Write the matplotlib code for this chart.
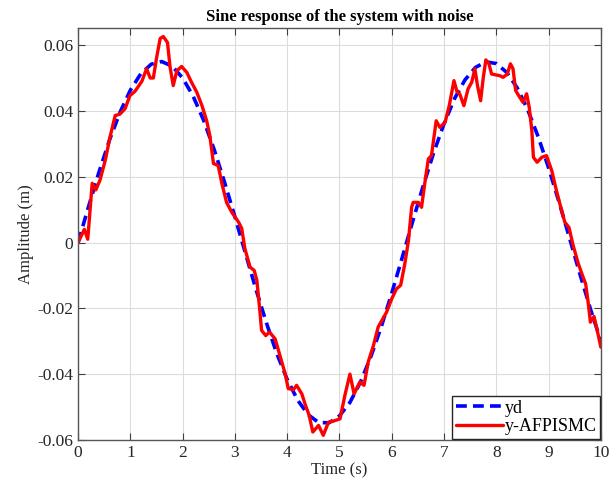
import matplotlib
matplotlib.use('Agg')
import matplotlib.pyplot as plt

# reference signal yd, sampled every 0.2 s
t_ref = [0.0, 0.2, 0.4, 0.6, 0.8, 1.0, 1.2, 1.4, 1.6, 1.8,
         2.0, 2.2, 2.4, 2.6, 2.8, 3.0, 3.2, 3.4, 3.6, 3.8,
         4.0, 4.2, 4.4, 4.6, 4.8, 5.0, 5.2, 5.4, 5.6, 5.8,
         6.0, 6.2, 6.4, 6.6, 6.8, 7.0, 7.2, 7.4, 7.6, 7.8,
         8.0, 8.2, 8.4, 8.6, 8.8, 9.0, 9.2, 9.4, 9.6, 9.8, 10.0]
yd = [0.0, 0.0109, 0.0214, 0.0311, 0.0395, 0.0463, 0.0513, 0.0542, 0.0550, 0.0536,
      0.0500, 0.0445, 0.0372, 0.0284, 0.0184, 0.0078, -0.0032, -0.0141, -0.0243, -0.0337,
      -0.0416, -0.0479, -0.0523, -0.0547, -0.0548, -0.0527, -0.0486, -0.0425, -0.0347, -0.0256,
      -0.0154, -0.0046, 0.0064, 0.0171, 0.0272, 0.0361, 0.0437, 0.0494, 0.0532, 0.0549,
      0.0544, 0.0517, 0.0470, 0.0404, 0.0322, 0.0227, 0.0123, 0.0014, -0.0096, -0.0202, -0.0299]

# system output y-AFPISMC (noisy)
t_out = [0.0, 0.12, 0.185, 0.27, 0.34, 0.42, 0.52, 0.61, 0.71, 0.80,
         0.90, 0.99, 1.09, 1.22, 1.31, 1.38, 1.44, 1.50, 1.57, 1.63,
         1.71, 1.76, 1.82, 1.89, 1.98, 2.08, 2.17, 2.27, 2.37, 2.46,
         2.52, 2.59, 2.68, 2.75, 2.84, 2.94, 3.07, 3.13, 3.19, 3.29,
         3.37, 3.42, 3.47, 3.51, 3.59, 3.66, 3.77, 3.86, 3.96, 4.02,
         4.12, 4.18, 4.28, 4.34, 4.42, 4.49, 4.60, 4.69, 4.79, 4.88,
         5.01, 5.11, 5.20, 5.28, 5.39, 5.47, 5.55, 5.65, 5.74, 5.81,
         5.90, 6.00, 6.09, 6.17, 6.25, 6.32, 6.38, 6.41, 6.51, 6.57,
         6.63, 6.70, 6.76, 6.85, 6.92, 7.02, 7.10, 7.19, 7.25, 7.30,
         7.38, 7.46, 7.53, 7.59, 7.64, 7.70, 7.75, 7.80, 7.86, 7.91,
         8.07, 8.13, 8.21, 8.27, 8.32, 8.37, 8.45, 8.51, 8.58, 8.63,
         8.68, 8.71, 8.78, 8.87, 8.96, 9.06, 9.15, 9.25, 9.31, 9.39,
         9.47, 9.57, 9.66, 9.71, 9.76, 9.80, 9.87, 9.93, 10.0]
y_out = [0.0, 0.004, 0.001, 0.018, 0.016, 0.019, 0.025, 0.032, 0.0386, 0.039,
         0.0407, 0.0446, 0.046, 0.049, 0.0528, 0.050, 0.050, 0.056, 0.062, 0.0626,
         0.0608, 0.0533, 0.0477, 0.0522, 0.0535, 0.0517, 0.0487, 0.0457, 0.0416, 0.037,
         0.0325, 0.024, 0.0234, 0.018, 0.0122, 0.0092, 0.0062, 0.0043, -0.0018, -0.0075,
         -0.0085, -0.0115, -0.0196, -0.0267, -0.0283, -0.0272, -0.0293, -0.0343, -0.0398, -0.0444,
         -0.0447, -0.0434, -0.046, -0.049, -0.0525, -0.0576, -0.0556, -0.0586, -0.0546, -0.0543,
         -0.0536, -0.046, -0.040, -0.046, -0.0424, -0.0434, -0.0363, -0.0313, -0.0257, -0.0237,
         -0.0212, -0.0171, -0.0141, -0.013, -0.0065, 0.0006, 0.0107, 0.0122, 0.0122, 0.0107,
         0.0178, 0.0254, 0.0264, 0.037, 0.035, 0.0365, 0.0416, 0.0492, 0.0457, 0.0452,
         0.0416, 0.0467, 0.0487, 0.0528, 0.0477, 0.0431, 0.050, 0.0555, 0.0543, 0.0512,
         0.0507, 0.0502, 0.0512, 0.0543, 0.0528, 0.0462, 0.0441, 0.0426, 0.0452, 0.0411,
         0.034, 0.0259, 0.0244, 0.0259, 0.0264, 0.0219, 0.0158, 0.0097, 0.0062, 0.0046,
         -0.0009, -0.0065, -0.0105, -0.0126, -0.0186, -0.0242, -0.0225, -0.0267, -0.0318]

plt.rcParams['font.family'] = ['Liberation Serif', 'DejaVu Serif']

fig = plt.figure(figsize=(6.1, 4.91), dpi=100)
ax = fig.add_axes([0.128, 0.104, 0.857, 0.839])

ax.plot(t_ref, yd, '--', color='blue', lw=2.6, dashes=(3, 1.7), label='yd')
ax.plot(t_out, y_out, '-', color='red', lw=2.4, solid_joinstyle='round',
        solid_capstyle='round', label='y-AFPISMC')

ax.set_xlim(0, 10)
ax.set_ylim(-0.06, 0.0652)
ax.set_xticks(range(0, 11))
ax.set_yticks([-0.06, -0.04, -0.02, 0, 0.02, 0.04, 0.06])
ax.set_yticklabels(['-0.06', '-0.04', '-0.02', '0', '0.02', '0.04', '0.06'])
ax.tick_params(direction='in', top=True, right=True, labelsize=12.5, length=5,
               colors='#404040', labelcolor='#262626')
ax.grid(True, color='#dcdcdc', lw=0.8)
for s in ax.spines.values():
    s.set_color('#555555')
    s.set_linewidth(1.0)

ax.set_xlabel('Time (s)', fontsize=12, labelpad=1, color='#262626')
ax.set_ylabel('Amplitude (m)', fontsize=12, labelpad=2, color='#262626')
ax.set_title('Sine response of the system with noise', fontsize=12, fontweight='bold', pad=5)

leg = ax.legend(loc='lower right', fontsize=13, fancybox=False, framealpha=1,
                edgecolor='#262626', borderpad=0.2, labelspacing=0.1, handlelength=2.6,
                handletextpad=0.1, borderaxespad=0.05)
leg.get_frame().set_linewidth(1.0)

plt.savefig('out.png')
plt.close()
